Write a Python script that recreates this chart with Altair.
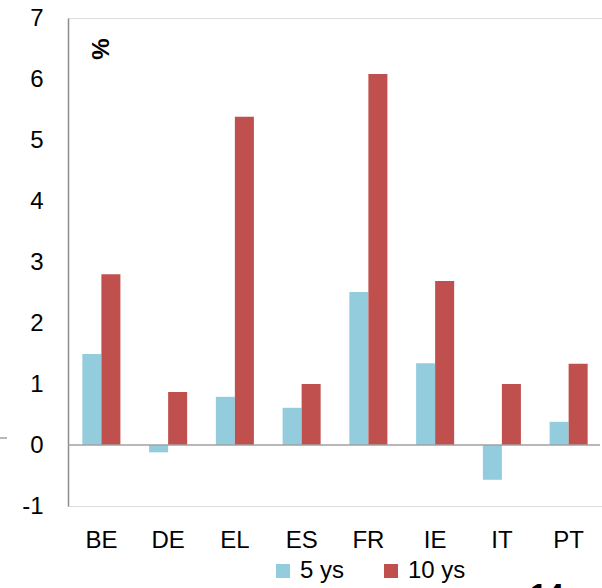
import altair as alt
import pandas as pd

countries = ["BE", "DE", "EL", "ES", "FR", "IE", "IT", "PT"]
five_ys = [1.49, -0.12, 0.79, 0.61, 2.51, 1.34, -0.57, 0.38]
ten_ys = [2.80, 0.87, 5.38, 1.00, 6.08, 2.69, 1.00, 1.33]
series_names = ["5 ys", "10 ys"]
y_ticks = [-1, 0, 1, 2, 3, 4, 5, 6, 7]

rows = []
for c, a, b in zip(countries, five_ys, ten_ys):
    rows.append({"country": c, "series": series_names[0], "value": a})
    rows.append({"country": c, "series": series_names[1], "value": b})
df = pd.DataFrame(rows)

FONT = "Liberation Sans"
W, H = 534, 488

x_enc = alt.X("country:N", sort=countries, title=None,
              scale=alt.Scale(paddingInner=0.43, paddingOuter=0.215),
              axis=alt.Axis(domain=False, ticks=False, labelAngle=0,
                            labelFont=FONT, labelFontSize=24, labelColor="#000000",
                            labelPadding=22))
y_enc = alt.Y("value:Q", title=None,
              scale=alt.Scale(domain=[-1, 7], nice=False, zero=False),
              axis=alt.Axis(values=y_ticks, labelExpr="'' + datum.value",
                            grid=False, ticks=False,
                            domainColor="#8c8c8c", domainWidth=1.5,
                            labelFont=FONT, labelFontSize=24, labelColor="#000000",
                            labelPadding=25))

bars = alt.Chart(df).mark_bar().encode(
    x=x_enc,
    xOffset=alt.XOffset("series:N", sort=series_names,
                        scale=alt.Scale(paddingInner=0, paddingOuter=0)),
    y=y_enc,
    color=alt.Color("series:N", sort=series_names, title=None,
                    scale=alt.Scale(domain=series_names, range=["#93CDDD", "#C0504D"]),
                    legend=alt.Legend(orient="none", legendX=203, legendY=541,
                                      direction="horizontal", symbolType="square",
                                      symbolSize=196, symbolStrokeWidth=0,
                                      labelFont=FONT, labelFontSize=24,
                                      labelColor="#000000", labelOffset=5,
                                      columnPadding=34, padding=0)),
)

zero_df = pd.DataFrame({"v": [0]})
zero_line = alt.Chart(zero_df).mark_rule(color="#a0a0a0", strokeWidth=1.5).encode(
    y=alt.Y("v:Q", scale=alt.Scale(domain=[-1, 7], nice=False, zero=False)),
    x=alt.value(0), x2=alt.value(532),
)

pct = alt.Chart(pd.DataFrame({"t": ["%"]})).mark_text(
    font=FONT, fontSize=24, fontWeight="bold", angle=270, color="#000000",
    align="center", baseline="middle",
).encode(x=alt.value(34), y=alt.value(31), text="t:N")

page = alt.Chart(pd.DataFrame({"t": ["14"]})).mark_text(
    font=FONT, fontSize=30, fontWeight="bold", color="#000000",
    align="center", baseline="alphabetic",
).encode(x=alt.value(479), y=alt.value(586), text="t:N")

stray = alt.Chart(pd.DataFrame({"v": [0]})).mark_rule(color="#a0a0a0", strokeWidth=1.5).encode(
    x=alt.value(-68), x2=alt.value(-61), y=alt.value(420),
)

chart = alt.layer(bars, zero_line, pct, page, stray).properties(
    width=W, height=H,
    autosize=alt.AutoSizeParams(type="none"),
    padding={"left": 68, "top": 18, "right": 0, "bottom": 82},
).configure_view(stroke=None).configure(background="white")

chart.save("out.html", embed_options={"renderer": "svg", "actions": False})
